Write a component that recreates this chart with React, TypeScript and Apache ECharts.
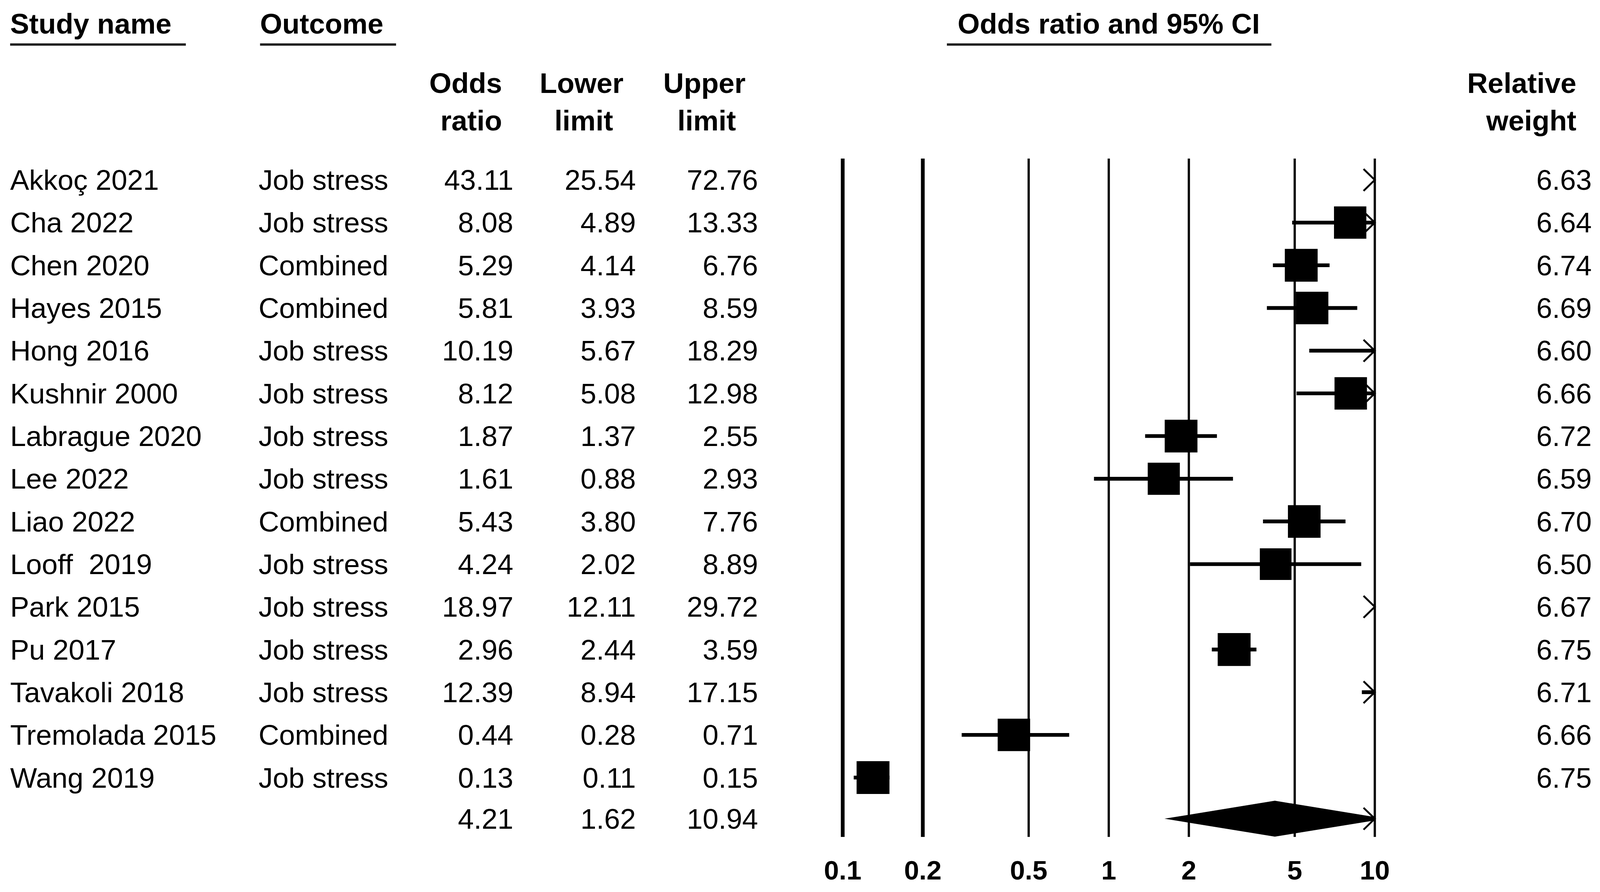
import React, { useEffect, useRef } from "react";
import * as echarts from "echarts";

// ---------- data ----------
const studyNames = [
  "Akkoç 2021", "Cha 2022", "Chen 2020", "Hayes 2015", "Hong 2016",
  "Kushnir 2000", "Labrague 2020", "Lee 2022", "Liao 2022", "Looff  2019",
  "Park 2015", "Pu 2017", "Tavakoli 2018", "Tremolada 2015", "Wang 2019",
];
const outcomes = [
  "Job stress", "Job stress", "Combined", "Combined", "Job stress",
  "Job stress", "Job stress", "Job stress", "Combined", "Job stress",
  "Job stress", "Job stress", "Job stress", "Combined", "Job stress",
];
const oddsRatios = [43.11, 8.08, 5.29, 5.81, 10.19, 8.12, 1.87, 1.61, 5.43, 4.24, 18.97, 2.96, 12.39, 0.44, 0.13];
const lowerLimits = [25.54, 4.89, 4.14, 3.93, 5.67, 5.08, 1.37, 0.88, 3.80, 2.02, 12.11, 2.44, 8.94, 0.28, 0.11];
const upperLimits = [72.76, 13.33, 6.76, 8.59, 18.29, 12.98, 2.55, 2.93, 7.76, 8.89, 29.72, 3.59, 17.15, 0.71, 0.15];
const relativeWeights = [6.63, 6.64, 6.74, 6.69, 6.60, 6.66, 6.72, 6.59, 6.70, 6.50, 6.67, 6.75, 6.71, 6.66, 6.75];
const summaryOR = 4.21;
const summaryLower = 1.62;
const summaryUpper = 10.94;
const tickValues = [0.1, 0.2, 0.5, 1, 2, 5, 10];
const tickLabels = ["0.1", "0.2", "0.5", "1", "2", "5", "10"];
const axisMin = 0.1;
const axisMax = 10;

// ---------- layout (reference pixel units, 4270 x 2284) ----------
const REF_W = 4270;
const REF_H = 2284;
const FAMILY = '"Liberation Sans", Arial, Helvetica, sans-serif';
const COL = { name: 27, outcome: 690, or: 1370, lower: 1697, upper: 2023, weight: 4248 };

export default function App() {
  const ref = useRef<HTMLDivElement>(null);
  const vw = typeof window !== "undefined" ? window.innerWidth || REF_W : REF_W;
  const vh = typeof window !== "undefined" ? window.innerHeight || REF_H : REF_H;

  useEffect(() => {
    if (!ref.current) return;
    const sx = vw / REF_W;
    const sy = vh / REF_H;
    const sf = Math.min(sx, sy);
    const X = (v: number) => v * sx;
    const Y = (v: number) => v * sy;
    const REG = `${76 * sf}px ${FAMILY}`;
    const BOLD = `bold ${76 * sf}px ${FAMILY}`;
    const TICK_FONT = `bold ${72 * sf}px ${FAMILY}`;

    const txt = (text: string, x: number, y: number, align: string, font: string) => ({
      type: "text",
      silent: true,
      style: {
        text, x, y,
        textAlign: align, textVerticalAlign: "middle",
        align, verticalAlign: "middle",
        font, fill: "#000",
      },
    });
    const chevron = (x: number, y: number) => ({
      type: "polyline",
      silent: true,
      shape: { points: [[x - 30 * sf, y - 28 * sy], [x, y], [x - 30 * sf, y + 28 * sy]] },
      style: { stroke: "#000", lineWidth: 5 * sf, fill: null },
    });
    const hline = (x1: number, x2: number, y: number) => ({
      type: "line", silent: true,
      shape: { x1: X(x1), y1: Y(y), x2: X(x2), y2: Y(y) },
      style: { stroke: "#222", lineWidth: 6 * sf },
    });

    const chart = echarts.init(ref.current, null, { renderer: "svg", width: vw, height: vh });
    const rowCats = [...studyNames, "Summary"];
    const studyData = studyNames.map((_, i) => [
      oddsRatios[i], i, lowerLimits[i], upperLimits[i], relativeWeights[i],
    ]);

    const option: any = {
      animation: false,
      backgroundColor: "#ffffff",
      grid: { left: X(2249), width: X(1420), top: Y(406), height: Y(1749) },
      xAxis: { type: "log", logBase: 10, min: axisMin, max: axisMax, show: false },
      yAxis: { type: "category", data: rowCats, inverse: true, show: false },
      graphic: [
        txt("Study name", X(27), Y(60), "left", BOLD),
        txt("Outcome", X(694), Y(60), "left", BOLD),
        txt("Odds ratio and 95% CI", X(2959), Y(60), "center", BOLD),
        hline(27, 496, 114),
        hline(694, 1057, 114),
        hline(2527, 3393, 114),
        txt("Odds", X(1340), Y(212), "right", BOLD),
        txt("ratio", X(1340), Y(308), "right", BOLD),
        txt("Lower", X(1552), Y(212), "center", BOLD),
        txt("limit", X(1558), Y(308), "center", BOLD),
        txt("Upper", X(1880), Y(212), "center", BOLD),
        txt("limit", X(1886), Y(308), "center", BOLD),
        txt("Relative", X(4207), Y(212), "right", BOLD),
        txt("weight", X(4207), Y(308), "right", BOLD),
      ],
      series: [
        {
          type: "custom",
          name: "reference",
          coordinateSystem: "cartesian2d",
          encode: { x: 0, y: 1 },
          data: tickValues.map((v) => [v, 0]),
          renderItem: (params: any, api: any) => {
            const v = api.value(0);
            const cs = params.coordSys;
            const x = api.coord([v, 0])[0];
            return {
              type: "group",
              children: [
                {
                  type: "line",
                  silent: true,
                  shape: { x1: x, y1: cs.y, x2: x, y2: cs.y + cs.height - Y(12) },
                  style: { stroke: "#000", lineWidth: (v <= 0.2 ? 10 : 6) * sf },
                },
                txt(tickLabels[params.dataIndex], x, cs.y + cs.height + Y(73), "center", TICK_FONT),
              ],
            };
          },
        },
        {
          type: "custom",
          name: "studies",
          coordinateSystem: "cartesian2d",
          encode: { x: 0, y: 1 },
          data: studyData,
          renderItem: (params: any, api: any) => {
            const i = params.dataIndex;
            const or = api.value(0);
            const lo = api.value(2);
            const hi = api.value(3);
            const w = api.value(4);
            const cs = params.coordSys;
            const y = api.coord([1, i])[1];
            const xMax = cs.x + cs.width;
            const children: any[] = [];
            if (lo < axisMax) {
              const x1 = api.coord([Math.max(lo, axisMin), i])[0];
              const x2 = api.coord([Math.min(hi, axisMax), i])[0];
              children.push({
                type: "line", silent: true,
                shape: { x1, y1: y, x2, y2: y },
                style: { stroke: "#000", lineWidth: 10 * sf },
              });
            }
            if (hi > axisMax) children.push(chevron(xMax, y));
            if (or >= axisMin && or <= axisMax) {
              const x = api.coord([or, i])[0];
              const s = w * 13 * sf;
              children.push({
                type: "rect", silent: true,
                shape: { x: x - s / 2, y: y - s / 2, width: s, height: s },
                style: { fill: "#000" },
              });
            }
            children.push(txt(studyNames[i], X(COL.name), y, "left", REG));
            children.push(txt(outcomes[i], X(COL.outcome), y, "left", REG));
            children.push(txt(or.toFixed(2), X(COL.or), y, "right", REG));
            children.push(txt(lo.toFixed(2), X(COL.lower), y, "right", REG));
            children.push(txt(hi.toFixed(2), X(COL.upper), y, "right", REG));
            children.push(txt(w.toFixed(2), X(COL.weight), y, "right", REG));
            return { type: "group", children };
          },
        },
        {
          type: "custom",
          name: "summary",
          coordinateSystem: "cartesian2d",
          encode: { x: 0, y: 1 },
          data: [[summaryOR, studyNames.length, summaryLower, summaryUpper]],
          renderItem: (params: any, api: any) => {
            const or = api.value(0);
            const row = api.value(1);
            const lo = api.value(2);
            const hi = api.value(3);
            const cs = params.coordSys;
            const y = api.coord([1, row])[1] - Y(4);
            const xMax = cs.x + cs.width;
            const xL = api.coord([lo, row])[0];
            const xC = api.coord([or, row])[0];
            const xR = api.coord([hi, row])[0];
            const h = 46 * sy;
            let pts: number[][];
            if (xR > xMax) {
              const hh = (h * (xR - xMax)) / (xR - xC);
              pts = [[xL, y], [xC, y - h], [xMax, y - hh], [xMax, y + hh], [xC, y + h]];
            } else {
              pts = [[xL, y], [xC, y - h], [xR, y], [xC, y + h]];
            }
            const children: any[] = [
              { type: "polygon", silent: true, shape: { points: pts }, style: { fill: "#000" } },
            ];
            if (hi > axisMax) children.push(chevron(xMax, y));
            children.push(txt(or.toFixed(2), X(COL.or), y, "right", REG));
            children.push(txt(lo.toFixed(2), X(COL.lower), y, "right", REG));
            children.push(txt(hi.toFixed(2), X(COL.upper), y, "right", REG));
            return { type: "group", children };
          },
        },
      ],
    };

    chart.setOption(option);
    return () => chart.dispose();
  }, [vw, vh]);

  return (
    <div
      ref={ref}
      style={{ position: "absolute", left: 0, top: 0, width: vw, height: vh, background: "#fff", overflow: "hidden" }}
    />
  );
}
